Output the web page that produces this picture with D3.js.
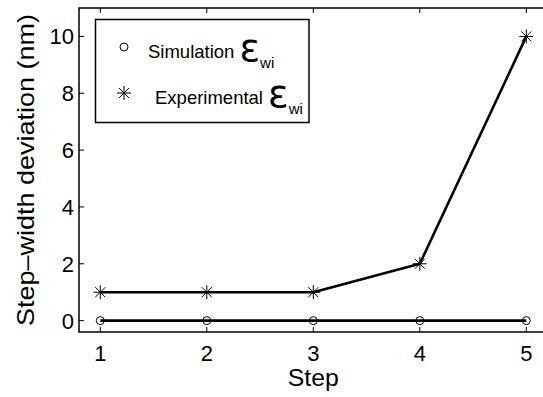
<!DOCTYPE html>
<html><head><meta charset="utf-8">
<script src="https://cdn.jsdelivr.net/npm/d3@7"></script>
<style>body{margin:0;background:#fff}svg{display:block}text{font-family:"Liberation Sans",Arial,Helvetica,sans-serif;fill:#000}</style>
</head><body><svg id="c" width="543" height="397"></svg>
<script>
const steps = [1, 2, 3, 4, 5];
const simulation = [0, 0, 0, 0, 0];
const experimental = [1, 1, 1, 2, 10];
const xTicks = [1, 2, 3, 4, 5];
const yTicks = [0, 2, 4, 6, 8, 10];
const xLabel = "Step";
const yLabel = "Step\u2013width deviation (nm)";
const legendNames = ["Simulation", "Experimental"];

const svg = d3.select("#c");
const x = d3.scaleLinear().domain([0.8, 5.2]).range([79, 547.6]);
const y = d3.scaleLinear().domain([-0.4, 11]).range([332, 8]);
const L = 79, R = 547.6, T = 8, B = 332;

// axes box
svg.append("path").attr("d", `M${R},${T}H${L}V${B}H${R}`).attr("fill","none").attr("stroke","#000").attr("stroke-width",1.5);

// ticks inside
const tk = 5;
xTicks.forEach(v => {
  svg.append("line").attr("x1",x(v)).attr("x2",x(v)).attr("y1",B).attr("y2",B-tk).attr("stroke","#000").attr("stroke-width",1);
  svg.append("line").attr("x1",x(v)).attr("x2",x(v)).attr("y1",T).attr("y2",T+tk).attr("stroke","#000").attr("stroke-width",1);
  svg.append("text").attr("x",x(v)).attr("y",361).attr("text-anchor","middle").attr("font-size",22).text(v);
});
yTicks.forEach(v => {
  svg.append("line").attr("x1",L).attr("x2",L+tk).attr("y1",y(v)).attr("y2",y(v)).attr("stroke","#000").attr("stroke-width",1);
  svg.append("text").attr("x",74).attr("y",y(v)).attr("dy","0.36em").attr("text-anchor","end").attr("font-size",22).text(v);
});

svg.append("text").attr("x",(L+R)/2).attr("y",386).attr("text-anchor","middle").attr("font-size",23)
  .attr("textLength",51).attr("lengthAdjust","spacingAndGlyphs").text(xLabel);
svg.append("text").attr("transform",`translate(34,${(T+B)/2}) rotate(-90)`).attr("text-anchor","middle").attr("font-size",24)
  .attr("textLength",312).attr("lengthAdjust","spacingAndGlyphs").text(yLabel);

const line = d3.line().x((d,i)=>x(steps[i])).y(d=>y(d));
[simulation, experimental].forEach(s => {
  svg.append("path").attr("d", line(s)).attr("fill","none").attr("stroke","#000").attr("stroke-width",2.6).attr("stroke-linejoin","round");
});

function circleMark(cx, cy){
  svg.append("circle").attr("cx",cx).attr("cy",cy).attr("r",4).attr("fill","none").attr("stroke","#000").attr("stroke-width",1);
}
function starMark(cx, cy){
  const r = 7, d = 5;
  const p = `M${cx-r},${cy}H${cx+r}M${cx},${cy-r}V${cy+r}M${cx-d},${cy-d}L${cx+d},${cy+d}M${cx-d},${cy+d}L${cx+d},${cy-d}`;
  svg.append("path").attr("d",p).attr("stroke","#000").attr("stroke-width",1).attr("fill","none");
}
simulation.forEach((v,i)=>circleMark(x(steps[i]), y(v)));
experimental.forEach((v,i)=>starMark(x(steps[i]), y(v)));

// legend
svg.append("rect").attr("x",95.5).attr("y",19.5).attr("width",213.5).attr("height",103).attr("fill","#fff").attr("stroke","#000").attr("stroke-width",1.5);
circleMark(124, 47);
starMark(124, 93);
function legText(tx, ty, name){
  const t = svg.append("text").attr("x",tx).attr("y",ty).attr("font-size",18.5);
  t.append("tspan").text(name + " ");
  t.append("tspan").attr("font-size",38).attr("font-family","'DejaVu Sans',sans-serif").attr("dy",3).text("\u03b5");
  t.append("tspan").attr("font-size",15).attr("dy",7).text("wi");
}
legText(148, 58, legendNames[0]);
legText(155, 104, legendNames[1]);
</script></body></html>
